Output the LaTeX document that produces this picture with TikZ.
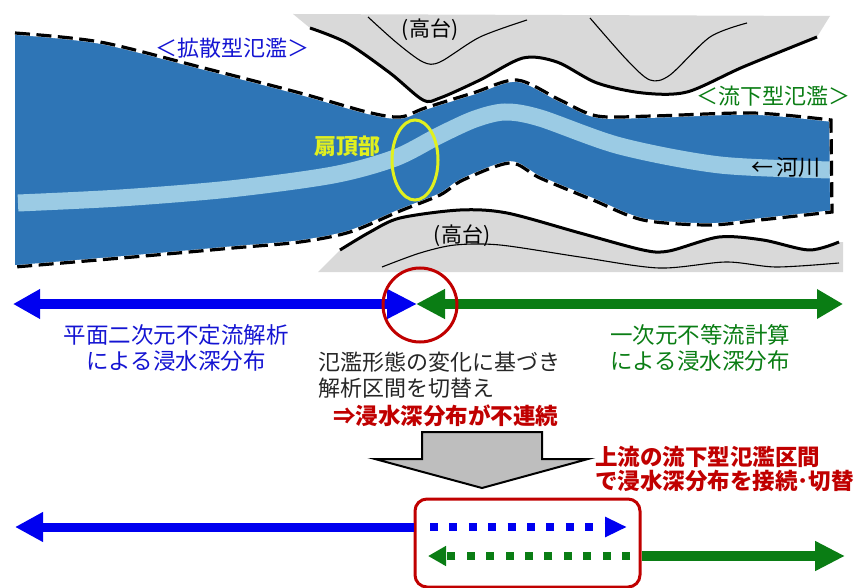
\documentclass[tikz,border=0pt]{standalone}
\usepackage{fontspec}
\setmainfont{Noto Sans CJK JP}
\usetikzlibrary{arrows.meta,shapes.geometric}

\definecolor{floodblue}{RGB}{46,117,182}
\definecolor{riverblue}{RGB}{155,203,228}
\definecolor{highland}{RGB}{217,217,217}
\definecolor{arrowblue}{RGB}{0,0,240}
\definecolor{textblue}{RGB}{20,20,210}
\definecolor{arrowgreen}{RGB}{10,125,20}
\definecolor{darkred}{RGB}{192,0,0}
\definecolor{fanyellow}{RGB}{225,240,30}
\definecolor{blockgray}{RGB}{190,190,190}

\tikzset{
  thickedge/.style={line width=3pt, line join=round},
  thinedge/.style={line width=1.1pt},
  floodedge/.style={line width=3.2pt, dash pattern=on 15pt off 6.5pt},
  floodunder/.style={line width=3.6pt, white},
  txt/.style={inner sep=0pt, font=\fontsize{22}{26}\selectfont},
  bluebar/.style={arrowblue, line width=10pt},
  greenbar/.style={arrowgreen, line width=10pt},
  dotbar/.style={line width=8pt, dash pattern=on 8pt off 11.4pt}
}

\begin{document}
\begin{tikzpicture}[x=1pt,y=-1pt]
\useasboundingbox (0,0) rectangle (856,588);

% upper highland
\fill[highland] (293,14) -- (830,16) -- (817,37)
  -- plot[smooth] coordinates {(817,37) (743,67) (687,92) (643,93) (597,83) (557,62) (523,58) (480,80) (440,98) (423,100) (390,73) (347,43) (310,28)}
  -- cycle;
\draw[thickedge] plot[smooth] coordinates {(310,28) (347,43) (390,73) (423,100) (440,98) (480,80) (523,58) (557,62) (597,83) (643,93) (687,92) (743,67) (817,37)};
\draw[thinedge] plot[smooth] coordinates {(368,17) (397,43) (423,62) (440,62) (480,37) (527,20)};
\draw[thinedge] plot[smooth] coordinates {(590,18) (627,60) (650,80) (670,75) (710,37) (747,23)};

% lower highland
\fill[highland] (318,272) -- (340,250)
  -- plot[smooth] coordinates {(340,250) (370,232) (400,218) (460,210) (507,213) (580,233) (643,250) (669,251) (719,237) (763,240) (809,250) (839,242)}
  -- (843,242) -- (843,272) -- cycle;
\draw[thickedge] plot[smooth] coordinates {(340,250) (370,232) (400,218) (460,210) (507,213) (580,233) (643,250) (669,251) (719,237) (763,240) (809,250) (839,242)};
\draw[thinedge] plot[smooth] coordinates {(382,267) (420,253) (455,245) (500,245) (580,257) (659,268) (726,262) (776,267) (839,263)};

% flooded area
\fill[floodblue] plot[smooth] coordinates {(15,33) (100,42) (200,67) (300,93) (367,112) (400,117) (425,108) (473,93) (517,80) (560,100) (597,116) (653,116) (753,113) (831,120)}
  -- plot[smooth] coordinates {(832,212) (760,220) (709,225) (643,220) (593,200) (540,178) (510,163) (463,180) (440,195) (400,211) (350,232) (300,242) (233,248) (133,257) (15,267)}
  -- cycle;

% river
\draw[riverblue, line width=17pt] plot[smooth] coordinates {(18,203) (120,198) (230,189) (333,175) (395,158) (440,135) (475,119) (505,112) (540,118) (620,146) (720,165) (832,170)};

% flood boundary
\foreach \s in {floodunder, floodedge}{
  \draw[\s] plot[smooth] coordinates {(15,33) (100,42) (200,67) (300,93) (367,112) (400,117) (425,108) (473,93) (517,80) (560,100) (597,116) (653,116) (753,113) (831,120)}
    -- plot[smooth] coordinates {(832,212) (760,220) (709,225) (643,220) (593,200) (540,178) (510,163) (463,180) (440,195) (400,211) (350,232) (300,242) (233,248) (133,257) (15,267)};
}

% fan apex
\node[draw=fanyellow, line width=3pt, ellipse, minimum width=46pt, minimum height=80pt, inner sep=0pt] (apexring) at (415,160) {};
\node[txt, text=fanyellow, font=\fontsize{22}{26}\selectfont\bfseries] (apex) at (347,146) {扇頂部};

% map labels
\node[txt, font=\fontsize{21}{24}\selectfont] (hlup) at (430,30) {(高台)};
\node[txt, font=\fontsize{21}{24}\selectfont] (hllow) at (462,236) {(高台)};
\node[txt, text=textblue] (diffuse) at (232,48) {＜拡散型氾濫＞};
\node[txt, text=arrowgreen] (flowdown) at (773,96) {＜流下型氾濫＞};
\node[txt] (river) at (786,167) {←\,河川};

% analysis ranges
\coordinate (b1L) at (13,304);
\coordinate (b1R) at (417,304);
\coordinate (g1L) at (416,304);
\coordinate (g1R) at (843,304);
\draw[bluebar, {Triangle[length=27pt,width=28pt]}-{Triangle[length=30pt,width=28pt]}] (b1L) -- (b1R);
\draw[greenbar, {Triangle[length=29pt,width=28pt]}-{Triangle[length=26pt,width=28pt]}] (g1L) -- (g1R);
\node[draw=darkred, line width=3pt, circle, minimum size=74pt, inner sep=0pt] (switch) at (420,305) {};

\node[txt, align=center, text=textblue, font=\fontsize{22.5}{26}\selectfont] (twod) at (176,348) {平面二次元不定流解析\\による浸水深分布};
\node[txt, align=center, text=arrowgreen, font=\fontsize{22.5}{26}\selectfont] (oned) at (700,348) {一次元不等流計算\\による浸水深分布};
\node[txt, align=left, anchor=west, text=black!85] (note) at (318,375) {氾濫形態の変化に基づき\\解析区間を切替え};
\node[txt, anchor=west, text=darkred, font=\fontsize{22.5}{26}\selectfont\bfseries] (gap) at (333,416) {⇒浸水深分布が不連続};

% block arrow
\draw[fill=blockgray, line width=2pt, line join=miter] (422,432) -- (542,432) -- (542,459) -- (588,459) -- (482,488) -- (375,459) -- (422,459) -- cycle;
\node[txt, align=left, anchor=west, text=darkred, font=\fontsize{22.5}{24}\selectfont\bfseries] (joint) at (595,469) {上流の流下型氾濫区間\\で浸水深分布を接続･切替};

% connected ranges
\node[draw=darkred, line width=3pt, rounded corners=12pt, minimum width=225pt, minimum height=88pt, inner sep=0pt] (overlap) at (527.5,543) {};
\coordinate (b2L) at (15,527);
\coordinate (b2S) at (430,527);
\coordinate (b2E) at (627,527);
\coordinate (g2S) at (630,556);
\coordinate (g2E) at (428,556);
\coordinate (g2R) at (845,556);
\draw[bluebar, line width=9pt, -{Triangle[length=28pt,width=28pt]}] (overlap.west |- b2L) -- (b2L);
\draw[arrowblue, dotbar, -{Triangle[length=22pt,width=19pt]}] (b2S) -- (b2E);
\draw[arrowgreen, dotbar, -{Triangle[length=18pt,width=19pt]}] (g2S) -- (g2E);
\draw[greenbar, -{Triangle[length=30pt,width=28pt]}] (overlap.east |- g2R) -- (g2R);
\end{tikzpicture}
\end{document}
